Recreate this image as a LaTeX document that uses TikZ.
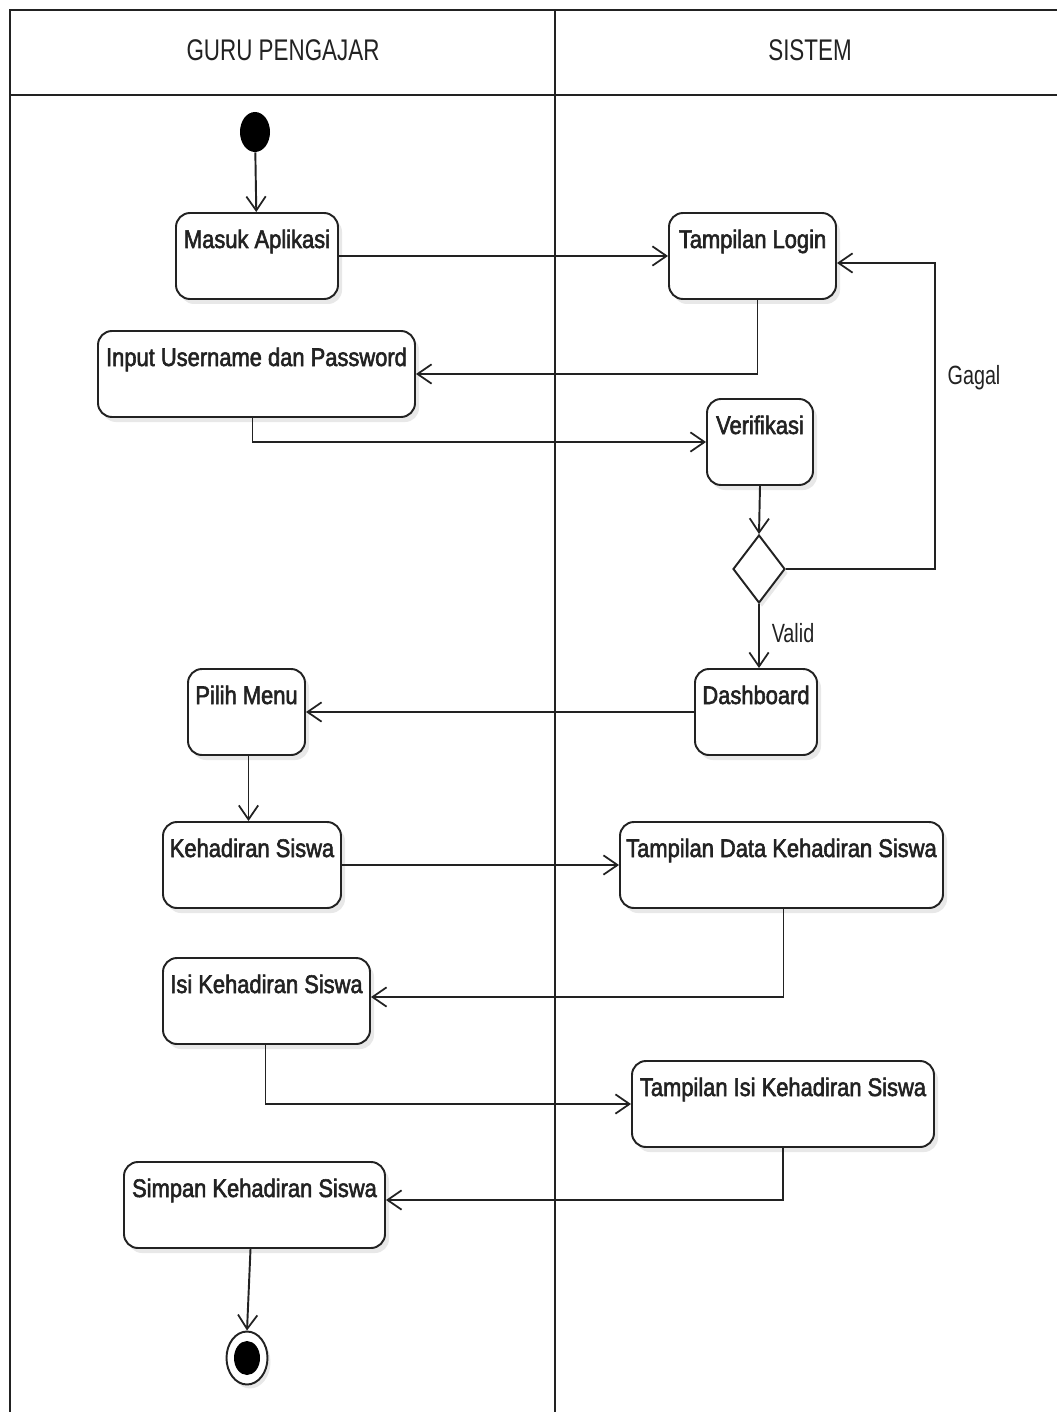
\documentclass[tikz,border=0pt]{standalone}
\usepackage{fontspec}
\setmainfont{Liberation Sans}
\newfontfamily\boxfont[FakeStretch=0.86,FakeBold=2.2]{Liberation Sans}
\newfontfamily\headfont[FakeStretch=0.75]{Liberation Sans}
\usetikzlibrary{arrows.meta,shapes.geometric,shadows,calc}
\newdimen\upx \upx=0.02cm
\definecolor{ink}{HTML}{222222}
\tikzset{
  actbox/.style={draw=ink, line width=1.1pt, rounded corners=14\upx, fill=white,
    inner xsep=0pt, inner ysep=0pt, text height=35\upx, text depth=51\upx,
    font=\boxfont\fontsize{14.5}{16}\selectfont, text=ink,
    drop shadow={shadow xshift=4\upx, shadow yshift=-5\upx, opacity=0.18}},
  flow/.style={draw=ink, line width=1.1pt,
    -{Straight Barb[length=8pt, width=11pt, line width=1pt]}},
  lane/.style={draw=ink, line width=1.6pt},
  head/.style={font=\headfont\fontsize{17}{19}\selectfont, text=ink},
  guard/.style={font=\headfont\fontsize{15}{17}\selectfont, text=ink}
}
\begin{document}
\begin{tikzpicture}[x=0.02cm, y=-0.02cm]
\useasboundingbox (0,0) rectangle (1057,1412);

% swimlane frame
\draw[lane] (1057,10) -- (10,10) -- (10,1412);
\draw[lane] (10,95) -- (1057,95);
\draw[lane] (555,10) -- (555,1412);
\node[head] (laneguru) at (283,50) {GURU PENGAJAR};
\node[head] (lanesys) at (810,50) {SISTEM};

% start / end
\node[ellipse, fill=black, minimum width=30\upx, minimum height=40\upx, inner sep=0pt] (start) at (255,132) {};
\node[ellipse, draw=ink, line width=1.1pt, fill=white, minimum width=41\upx, minimum height=53\upx, inner sep=0pt,
  drop shadow={shadow xshift=3\upx, shadow yshift=-4\upx, opacity=0.18},
  path picture={\fill[black] (path picture bounding box.center) ellipse [x radius=13\upx, y radius=17\upx];}]
  (finish) at (247,1358) {};

% activities
\node[actbox, minimum width=162\upx] (masuk)  at (257,256)    {Masuk Aplikasi};
\node[actbox, minimum width=317\upx] (input)  at (256.5,374)  {Input Username dan Password};
\node[actbox, minimum width=167\upx] (login)  at (752.5,256)  {Tampilan Login};
\node[actbox, minimum width=106\upx] (verif)  at (760,442)    {Verifikasi};
\node[actbox, minimum width=122\upx] (dash)   at (756,712)    {Dashboard};
\node[actbox, minimum width=117\upx] (pilih)  at (246.5,712)  {Pilih Menu};
\node[actbox, minimum width=178\upx] (hadir)  at (252,865)    {Kehadiran Siswa};
\node[actbox, minimum width=323\upx] (tdata)  at (781.5,865)  {Tampilan Data Kehadiran Siswa};
\node[actbox, minimum width=207\upx] (isi)    at (266.5,1001) {Isi Kehadiran Siswa};
\node[actbox, minimum width=302\upx] (tisi)   at (783,1104)   {Tampilan Isi Kehadiran Siswa};
\node[actbox, minimum width=261\upx] (simpan) at (254.5,1205) {Simpan Kehadiran Siswa};

% decision
\node[diamond, draw=ink, line width=1.1pt, fill=white, minimum width=52\upx, minimum height=68\upx, inner sep=0pt,
  drop shadow={shadow xshift=3\upx, shadow yshift=-4\upx, opacity=0.18}] (dec) at (759,569) {};

% connectors
\coordinate (gturn) at (935,263);
\draw[flow] (start) -- (masuk);
\draw[flow] (masuk.east) -- (masuk.east -| login.west);
\draw[flow] ([xshift=5\upx]login.south) |- (input.east);
\draw[flow] ([xshift=-4\upx]input.south) |- (verif.west);
\draw[flow] (verif.south) -- (dec.north);
\draw[flow] (dec.east) -| (gturn) -- (gturn -| login.east);
\draw[flow] (dec.south) -- (dec.south |- dash.north);
\draw[flow] (dash.west) -- (pilih.east);
\draw[flow] ([xshift=2\upx]pilih.south) -- ([xshift=2\upx]pilih.south |- hadir.north);
\draw[flow] (hadir.east) -- (tdata.west);
\draw[flow] ([xshift=2\upx]tdata.south) |- ([yshift=4\upx]isi.east);
\draw[flow] ([xshift=-1\upx]isi.south) |- (tisi.west);
\draw[flow] (tisi.south) |- ([yshift=5\upx]simpan.east);
\draw[flow] ([xshift=-4\upx]simpan.south) -- (finish.north);

% guards
\node[guard] (gagal) at (974,378) {Gagal};
\node[guard] (valid) at (793,633) {Valid};
\end{tikzpicture}
\end{document}
